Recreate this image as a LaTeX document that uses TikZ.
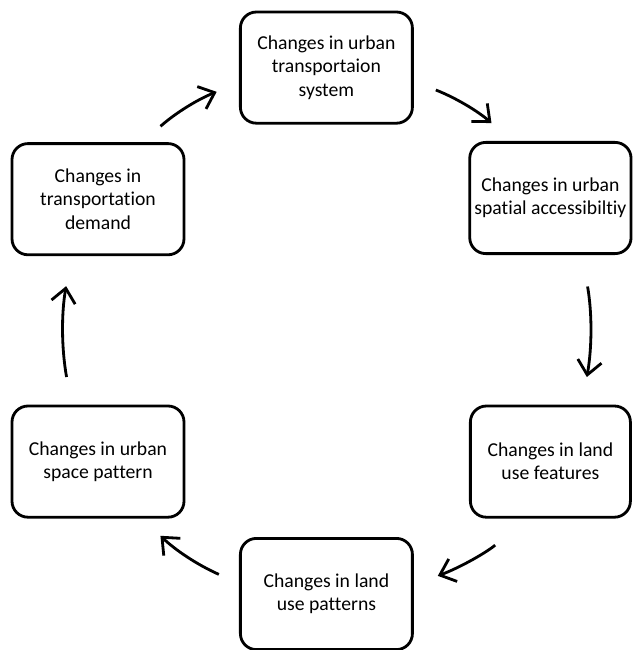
\documentclass[tikz,border=0pt]{standalone}
\usepackage{fontspec}
\setmainfont{Carlito}[RawFeature = {-liga;-clig;-dlig}]
\usetikzlibrary{arrows.meta}

\begin{document}
\begin{tikzpicture}[
    box/.style = {draw, rounded corners = 0.4cm, line width = 2pt, minimum width = 4.3cm, minimum height = 2.78cm, align = center, font = \fontsize{14}{16.5}\selectfont},
    narrowbox/.style = {box, minimum width = 4cm},
    cyc/.style = {-{Straight Barb[length = 0.35cm, width = 0.6cm]}, line width = 2pt},
]
    \useasboundingbox (0,0) rectangle (15.825,-16.25);

    \node[box] (t) at (8.16,-1.69) {Changes in urban\\transportaion\\system};
    \node[narrowbox] (ru) at (13.76,-4.95) {Changes in urban\\spatial accessibiltiy};
    \node[narrowbox] (rl) at (13.76,-11.54) {Changes in land\\use features};
    \node[box] (b) at (8.16,-14.85) {Changes in land\\use patterns};
    \node[box] (ll) at (2.45,-11.54) {Changes in urban\\space pattern};
    \node[box] (lu) at (2.45,-4.98) {Changes in\\transportation\\demand};

    \draw[cyc, shorten <= 0.6cm, shorten >= 0.6cm] (lu.52) to[bend left = 10] (t.190);
    \draw[cyc, shorten <= 0.59cm, shorten >= 0.68cm] (t.351) to[bend left = 10] (ru.124);
    \draw[cyc, shorten <= 0.8cm, shorten >= 0.7cm] (ru.299) to[bend left = 10] (rl.61);
    \draw[cyc, shorten <= 1.02cm, shorten >= 0.64cm] (rl.247) to[bend left = 10] (b.6);
    \draw[cyc, shorten <= 0.55cm, shorten >= 0.62cm] (b.173) to[bend left = 10] (ll.308);
    \draw[cyc, shorten <= 0.7cm, shorten >= 0.76cm] (ll.115) to[bend left = 10] (lu.245);
\end{tikzpicture}
\end{document}
